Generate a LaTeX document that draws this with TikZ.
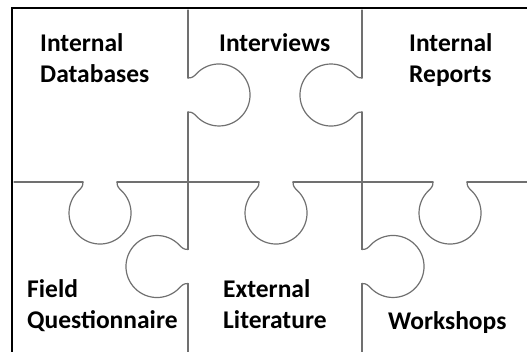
\documentclass[tikz,border=0pt]{standalone}
\usepackage{fontspec}
\setmainfont{Carlito}
\usetikzlibrary{positioning}
\definecolor{seamgray}{RGB}{112,112,112}

\begin{document}
\begin{tikzpicture}[
    x=1pt, y=-1pt,
    piece/.style={line width=1.2pt, draw=seamgray, line cap=round, line join=round},
    piecetext/.style={anchor=base west, align=left, inner sep=0pt, font=\fontsize{25.5}{31}\selectfont\bfseries},
    knob/.pic={
        \draw[piece] (-17,0) .. controls (-17,5) and (-19.1,6.3) .. (-21.9,9.1)
            arc[start angle=225, end angle=-45, radius=31]
            .. controls (19.1,6.3) and (17,5) .. (17,0);
    }
]
\useasboundingbox (0,0) rectangle (527,352);

% Seams between the pieces
\draw[piece] (188,10) -- (188,78);
\draw[piece] (188,112) -- (188,249.5);
\draw[piece] (188,283.5) -- (188,356);
\draw[piece] (362,10) -- (362,78);
\draw[piece] (362,112) -- (362,249.5);
\draw[piece] (362,283.5) -- (362,356);
\draw[piece] (14,182) -- (83,182);
\draw[piece] (117,182) -- (259,182);
\draw[piece] (293,182) -- (433,182);
\draw[piece] (467,182) -- (531,182);

% Outer frame
\draw[black, line width=2.7pt] (12,356) -- (12,8) -- (531,8);

% Knobs
\pic[rotate=90] at (188,95) {knob};
\pic[rotate=-90] at (362,95) {knob};
\pic at (100,182) {knob};
\pic[rotate=-90] at (188,266.5) {knob};
\pic at (276,182) {knob};
\pic[rotate=90] at (362,266.5) {knob};
\pic at (450,182) {knob};

% Piece labels
\node[piecetext] (databases) at (40,83) {Internal\\Databases};
\node[piecetext] (interviews) at (219,52) {Interviews};
\node[piecetext] (reports) at (409,83) {Internal\\Reports};
\node[piecetext] (questionnaire) at (27,328) {Field\\Questionnaire};
\node[piecetext] (literature) at (223,329) {External\\Literature};
\node[piecetext] (workshops) at (388,330) {Workshops};

\end{tikzpicture}
\end{document}
